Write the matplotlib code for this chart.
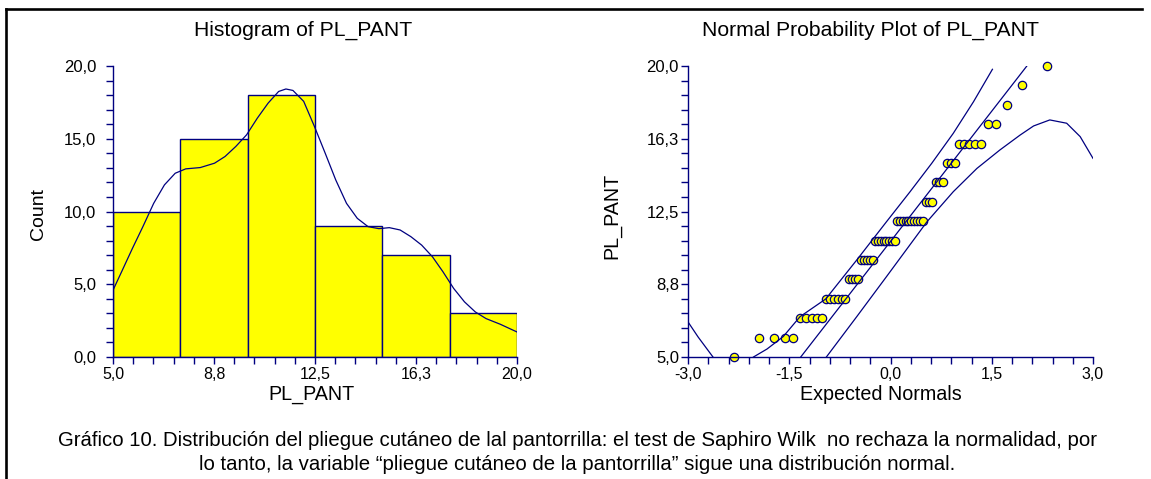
import matplotlib
matplotlib.use("Agg")
import matplotlib.pyplot as plt
from matplotlib.lines import Line2D
from matplotlib.ticker import FixedLocator
import numpy as np
from statistics import NormalDist

plt.rcParams['font.family'] = ['Liberation Sans', 'DejaVu Sans']

# data: PL_PANT values and how many times each appears
pl_values = [5, 6, 7, 8, 9, 10, 11, 12, 13, 14, 15, 16, 17, 18, 19, 20]
pl_freq = [1, 4, 5, 6, 4, 5, 8, 10, 3, 3, 3, 5, 2, 1, 1, 1]

# histogram bins
bin_edges = [5.0, 7.5, 10.0, 12.5, 15.0, 17.5, 20.0]
bin_counts = [10, 15, 18, 9, 7, 3]

# density curve over the histogram
dens_x = [5.0, 5.32, 5.72, 6.11, 6.51, 6.91, 7.31, 7.70, 8.24, 8.77, 9.16, 9.56, 9.96,
          10.36, 10.76, 11.15, 11.42, 11.68, 12.08, 12.48, 12.88, 13.27, 13.67, 14.07,
          14.47, 14.87, 15.26, 15.66, 16.06, 16.46, 16.86, 17.25, 17.65, 18.05, 18.45,
          18.85, 19.38, 20.0]
dens_y = [4.59, 5.86, 7.46, 8.96, 10.56, 11.83, 12.63, 12.93, 13.02, 13.32, 13.78, 14.47,
          15.27, 16.42, 17.45, 18.25, 18.42, 18.32, 17.57, 15.84, 14.0, 12.17, 10.56, 9.53,
          8.96, 8.82, 8.89, 8.73, 8.27, 7.69, 6.89, 5.86, 4.71, 3.79, 3.10, 2.64, 2.25, 1.72]

# reference line and confidence band of the probability plot
ref_x = [-1.33, 2.02]
ref_y = [5.0, 20.0]
upper_x = [-2.03, -1.83, -1.59, -1.34, -0.96, -0.50, -0.06, 0.29, 0.61, 0.93, 1.23, 1.51]
upper_y = [5.0, 5.41, 6.05, 7.08, 7.99, 10.0, 11.97, 13.52, 14.98, 16.53, 18.16, 19.83]
upper_left_x = [-3.0, -2.85, -2.63]
upper_left_y = [6.81, 6.03, 5.0]
lower_x = [-0.95, -0.50, -0.06, 0.54, 0.93, 1.28, 1.62, 1.92, 2.12, 2.36, 2.61, 2.81, 3.0]
lower_y = [5.0, 7.08, 9.14, 11.97, 13.52, 14.72, 15.67, 16.44, 16.91, 17.22, 17.05, 16.36, 15.24]

hist_ticks = [5.0, 8.75, 12.5, 16.25, 20.0]
hist_ticklabels = ['5,0', '8,8', '12,5', '16,3', '20,0']
count_ticks = [0, 5, 10, 15, 20]
count_ticklabels = ['0,0', '5,0', '10,0', '15,0', '20,0']
norm_ticks = [-3.0, -1.5, 0.0, 1.5, 3.0]
norm_ticklabels = ['-3,0', '-1,5', '0,0', '1,5', '3,0']

caption1 = ("Gráfico 10. Distribución del pliegue cutáneo de lal pantorrilla: el test de "
            "Saphiro Wilk  no rechaza la normalidad, por")
caption2 = "lo tanto, la variable “pliegue cutáneo de la pantorrilla” sigue una distribución normal."

navy = '#000080'
W, H = 1151, 479

fig = plt.figure(figsize=(W / 100, H / 100), dpi=100)

ax1 = fig.add_axes([113 / W, 1 - 357 / H, 404 / W, 291 / H])
ax2 = fig.add_axes([688 / W, 1 - 357 / H, 405 / W, 291 / H])

# histogram
ax1.bar(bin_edges[:-1], bin_counts, width=np.diff(bin_edges), align='edge',
        color='#FFFF00', edgecolor=navy, linewidth=1.0, zorder=2)
ax1.plot(dens_x, dens_y, color=navy, lw=0.9, zorder=3)
ax1.set_xlim(5, 20)
ax1.set_ylim(0, 20)
ax1.set_xticks(hist_ticks)
ax1.set_xticklabels(hist_ticklabels)
ax1.set_yticks(count_ticks)
ax1.set_yticklabels(count_ticklabels)
ax1.xaxis.set_minor_locator(FixedLocator(np.linspace(5, 20, 21)))
ax1.yaxis.set_minor_locator(FixedLocator(np.linspace(0, 20, 21)))

# normal probability plot
data = np.repeat(pl_values, pl_freq)
n = len(data)
expected = [NormalDist().inv_cdf((i - 0.375) / (n + 0.25)) for i in range(1, n + 1)]
ax2.plot(expected, data, 'o', ms=6, mfc='#FFFF00', mec=navy, mew=0.9, clip_on=False, zorder=2)
ax2.plot(ref_x, ref_y, color=navy, lw=0.9, zorder=3)
ax2.plot(upper_x, upper_y, color=navy, lw=0.9, zorder=3)
ax2.plot(upper_left_x, upper_left_y, color=navy, lw=0.9, zorder=3)
ax2.plot(lower_x, lower_y, color=navy, lw=0.9, zorder=3)
ax2.set_xlim(-3, 3)
ax2.set_ylim(5, 20)
ax2.set_xticks(norm_ticks)
ax2.set_xticklabels(norm_ticklabels)
ax2.set_yticks(hist_ticks)
ax2.set_yticklabels(hist_ticklabels)
ax2.xaxis.set_minor_locator(FixedLocator(np.linspace(-3, 3, 21)))
ax2.yaxis.set_minor_locator(FixedLocator(np.linspace(5, 20, 21)))

for ax, ypad in [(ax1, 7), (ax2, 1.5)]:
    for s in ['top', 'right']:
        ax.spines[s].set_visible(False)
    for s in ['left', 'bottom']:
        ax.spines[s].set_color(navy)
        ax.spines[s].set_linewidth(1.0)
    ax.tick_params(which='both', direction='out', color=navy, length=5, width=1.0)
    ax.tick_params(axis='x', which='major', labelsize=11.5, pad=2.5)
    ax.tick_params(axis='y', which='major', labelsize=12, pad=ypad)

# titles and labels
fig.text(303 / W, 1 - 30 / H, 'Histogram of PL_PANT', ha='center', va='center', fontsize=15.2)
fig.text(871 / W, 1 - 30 / H, 'Normal Probability Plot of PL_PANT', ha='center', va='center', fontsize=15.2)
fig.text(311 / W, 1 - 395 / H, 'PL_PANT', ha='center', va='center', fontsize=14.2)
fig.text(881 / W, 1 - 395 / H, 'Expected Normals', ha='center', va='center', fontsize=14.2)
fig.text(38 / W, 1 - 214 / H, 'Count', ha='center', va='center', fontsize=14, rotation=90)
fig.text(612 / W, 1 - 216 / H, 'PL_PANT', ha='center', va='center', fontsize=14.2, rotation=90)

# caption
fig.text(577 / W, 1 - 441 / H, caption1, ha='center', va='center', fontsize=14.7)
fig.text(577 / W, 1 - 464 / H, caption2, ha='center', va='center', fontsize=14.7)

# frame lines (left and top)
fig.add_artist(Line2D([6 / W, 6 / W], [0, 1 - 8.7 / H], color='black', lw=1.9))
fig.add_artist(Line2D([6 / W, 1142 / W], [1 - 8.7 / H, 1 - 8.7 / H], color='black', lw=1.9,
                      solid_capstyle='projecting'))

fig.savefig('out.png', dpi=100)
